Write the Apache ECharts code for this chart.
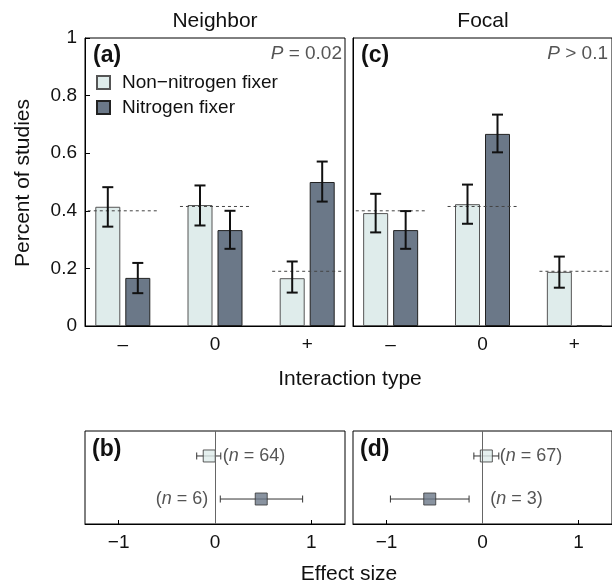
<!DOCTYPE html>
<html>
<head>
<meta charset="utf-8">
<script src="https://cdn.jsdelivr.net/npm/echarts@6/dist/echarts.min.js"></script>
<style>html,body{margin:0;padding:0;background:#fff}#chart{width:612px;height:585px}</style>
</head>
<body>
<div id="chart"></div>
<script>
// categories
const interaction = ['\u2013', '0', '+'];
const groups = ['Non\u2212nitrogen fixer', 'Nitrogen fixer'];

// (a) Neighbor: proportion of studies
const nbNonFix = [0.414, 0.42, 0.166];
const nbNonFixLo = [0.345, 0.349, 0.116];
const nbNonFixHi = [0.482, 0.488, 0.224];
const nbFix = [0.167, 0.333, 0.5];
const nbFixLo = [0.114, 0.268, 0.432];
const nbFixHi = [0.219, 0.4, 0.571];
const nbExpected = [0.4, 0.415, 0.19];

// (c) Focal
const fcNonFix = [0.392, 0.423, 0.188];
const fcNonFixLo = [0.325, 0.355, 0.133];
const fcNonFixHi = [0.459, 0.491, 0.241];
const fcFix = [0.333, 0.667, 0];
const fcFixLo = [0.268, 0.603, 0];
const fcFixHi = [0.399, 0.734, 0];
const fcExpected = [0.4, 0.415, 0.19];

// (b), (d) effect sizes (non-fixer, fixer)
const nbEffect = [-0.06, 0.48];
const nbEffectLo = [-0.19, 0.055];
const nbEffectHi = [0.06, 0.91];
const nbN = [64, 6];
const fcEffect = [0.04, -0.55];
const fcEffectLo = [-0.09, -0.96];
const fcEffectHi = [0.17, -0.14];
const fcN = [67, 3];

const effectTicks = [-1, 0, 1];

const FONT = '"Liberation Sans", Arial, Helvetica, sans-serif';
const LIGHT = '#dfeceb';
const DARK = '#6b7888';
const fills = [LIGHT, DARK];
const borders = ['#555', '#222'];

const chart = echarts.init(document.getElementById('chart'));

function errRender(offset) {
  return function (params, api) {
    const x = api.value(0), lo = api.value(1), hi = api.value(2);
    if (lo === hi) return;
    const t = api.coord([x, hi]);
    const b = api.coord([x, lo]);
    const cx = t[0] + offset;
    const st = { stroke: '#111', lineWidth: 2 };
    return {
      type: 'group',
      children: [
        { type: 'line', shape: { x1: cx, y1: t[1], x2: cx, y2: b[1] }, style: st },
        { type: 'line', shape: { x1: cx - 5.5, y1: t[1], x2: cx + 5.5, y2: t[1] }, style: st },
        { type: 'line', shape: { x1: cx - 5.5, y1: b[1], x2: cx + 5.5, y2: b[1] }, style: st }
      ]
    };
  };
}

function dashRender(params, api) {
  const x = api.value(0), y = api.value(1);
  const a = api.coord([x - 0.38, y]);
  const b = api.coord([x + 0.38, y]);
  return {
    type: 'line',
    shape: { x1: a[0], y1: a[1], x2: b[0], y2: b[1] },
    style: { stroke: '#444', lineWidth: 1, lineDash: [3, 3] }
  };
}

function forestRender(params, api) {
  const est = api.value(0), y = api.value(1), lo = api.value(2), hi = api.value(3), n = api.value(4);
  const l = api.coord([lo, y]);
  const h = api.coord([hi, y]);
  const st = { stroke: '#333', lineWidth: 1 };
  let lx, align;
  if (est > 0.2) { lx = api.coord([-0.07, y])[0]; align = 'right'; }
  else { lx = api.coord([Math.max(hi, 0.07) + 0.01, y])[0]; align = 'left'; }
  return {
    type: 'group',
    children: [
      { type: 'line', shape: { x1: l[0], y1: l[1], x2: h[0], y2: h[1] }, style: st },
      { type: 'line', shape: { x1: l[0], y1: l[1] - 3.5, x2: l[0], y2: l[1] + 3.5 }, style: st },
      { type: 'line', shape: { x1: h[0], y1: h[1] - 3.5, x2: h[0], y2: h[1] + 3.5 }, style: st },
      {
        type: 'text',
        style: {
          x: lx, y: l[1], text: '({i|n} = ' + n + ')',
          align: align, verticalAlign: 'middle',
          font: '18px ' + FONT, fill: '#555',
          rich: { i: { fontStyle: 'italic', fontSize: 18, fontFamily: FONT, fill: '#555' } }
        }
      }
    ]
  };
}

function barPanel(gi, non, nonLo, nonHi, fix, fixLo, fixHi, expected) {
  return [
    {
      name: groups[0], type: 'bar', xAxisIndex: gi, yAxisIndex: gi,
      barWidth: 25, barGap: '20%',
      itemStyle: { color: LIGHT, borderColor: borders[0], borderWidth: 1 },
      data: non.map((v, i) => [i, v])
    },
    {
      name: groups[1], type: 'bar', xAxisIndex: gi, yAxisIndex: gi,
      barWidth: 25, barGap: '20%',
      itemStyle: { color: DARK, borderColor: borders[1], borderWidth: 1 },
      data: fix.map((v, i) => [i, v])
    },
    {
      type: 'custom', xAxisIndex: gi, yAxisIndex: gi, z: 5, clip: true,
      renderItem: dashRender,
      data: expected.map((v, i) => [i, v])
    },
    {
      type: 'custom', xAxisIndex: gi, yAxisIndex: gi, z: 6,
      renderItem: errRender(-15),
      data: non.map((v, i) => [i, nonLo[i], nonHi[i]])
    },
    {
      type: 'custom', xAxisIndex: gi, yAxisIndex: gi, z: 6,
      renderItem: errRender(15),
      data: fix.map((v, i) => [i, fixLo[i], fixHi[i]])
    }
  ];
}

function forestPanel(gi, est, lo, hi, ns) {
  return [
    {
      type: 'custom', xAxisIndex: gi, yAxisIndex: gi, z: 3,
      renderItem: forestRender,
      data: est.map((v, i) => [v, groups.length - i, lo[i], hi[i], ns[i]])
    },
    {
      type: 'scatter', xAxisIndex: gi, yAxisIndex: gi, z: 4,
      symbol: 'rect', symbolSize: 12,
      data: est.map((v, i) => ({
        value: [v, groups.length - i],
        itemStyle: { color: fills[i], borderColor: '#333', borderWidth: 1 }
      })),
      markLine: {
        silent: true, symbol: 'none', label: { show: false },
        lineStyle: { color: '#666', type: 'solid', width: 1 },
        data: [{ xAxis: 0 }]
      }
    }
  ];
}

const labelStyle = { color: '#111', fontSize: 19, fontFamily: FONT };

function barX(gi) {
  return {
    type: 'value', gridIndex: gi, min: -0.41, max: 2.41,
    axisLine: { onZero: false, lineStyle: { color: '#000', width: 1 } },
    axisTick: { show: false },
    splitLine: { show: false },
    axisLabel: Object.assign({ customValues: [0, 1, 2], margin: 9, formatter: v => interaction[v] }, labelStyle)
  };
}
function barY(gi, showLabels) {
  return {
    type: 'value', gridIndex: gi, min: 0, max: 1, interval: 0.2,
    axisLine: { show: true, onZero: false, lineStyle: { color: '#000', width: 1 } },
    axisTick: { show: showLabels, inside: true, length: 5, lineStyle: { color: '#000' } },
    splitLine: { show: false },
    axisLabel: Object.assign({ show: showLabels, margin: 8 }, labelStyle)
  };
}
function forestX(gi) {
  return {
    type: 'value', gridIndex: gi, min: -1.35, max: 1.35,
    axisLine: { onZero: false, lineStyle: { color: '#000', width: 1 } },
    axisTick: { customValues: effectTicks, inside: true, length: 4, lineStyle: { color: '#000' } },
    splitLine: { show: false },
    axisLabel: Object.assign({
      customValues: effectTicks, margin: 9,
      formatter: v => (v < 0 ? '\u2212' + Math.abs(v) : String(v))
    }, labelStyle)
  };
}
function forestY(gi) {
  return {
    type: 'value', gridIndex: gi, min: 0.42, max: 2.58,
    axisLine: { show: false, onZero: false }, axisTick: { show: false },
    axisLabel: { show: false }, splitLine: { show: false }
  };
}

function txt(x, y, text, opts) {
  return {
    type: 'text', x: x, y: y, rotation: (opts && opts.rotation) || 0, z: 100,
    style: Object.assign({
      text: text, font: '21px ' + FONT, fill: '#111',
      align: 'center', verticalAlign: 'middle',
      textAlign: 'center', textVerticalAlign: 'middle'
    }, (opts && opts.style) || {})
  };
}
const boldLbl = { font: 'bold 23px ' + FONT, align: 'left', textAlign: 'left' };
const pStyle = {
  font: '19px ' + FONT, fill: '#555', align: 'right', textAlign: 'right',
  rich: { i: { fontStyle: 'italic', fontSize: 19, fontFamily: FONT, fill: '#555' } }
};

const gridBase = { show: true, borderColor: '#000', borderWidth: 1, containLabel: false };

chart.setOption({
  animation: false,
  backgroundColor: '#fff',
  textStyle: { fontFamily: FONT },
  grid: [
    Object.assign({ left: 85, top: 38, width: 260, height: 288 }, gridBase),
    Object.assign({ left: 353, top: 38, width: 260, height: 288 }, gridBase),
    Object.assign({ left: 85, top: 431, width: 260, height: 93 }, gridBase),
    Object.assign({ left: 353, top: 431, width: 260, height: 93 }, gridBase)
  ],
  xAxis: [barX(0), barX(1), forestX(2), forestX(3)],
  yAxis: [barY(0, true), barY(1, false), forestY(2), forestY(3)],
  legend: {
    data: groups, orient: 'vertical', left: 96, top: 73, padding: 0,
    itemWidth: 13, itemHeight: 13, itemGap: 6, selectedMode: false,
    icon: 'rect',
    textStyle: { color: '#111', fontSize: 19, fontFamily: FONT, lineHeight: 19, padding: [0, 0, 0, 7] }
  },
  graphic: [
    txt(215, 21, 'Neighbor'),
    txt(483, 21, 'Focal'),
    txt(350, 379, 'Interaction type'),
    txt(349, 574, 'Effect size'),
    txt(23, 183, 'Percent of studies', { rotation: Math.PI / 2 }),
    txt(93, 56, '(a)', { style: boldLbl }),
    txt(361, 56, '(c)', { style: boldLbl }),
    txt(92, 450, '(b)', { style: boldLbl }),
    txt(360, 450, '(d)', { style: boldLbl }),
    txt(342, 54, '{i|P} = 0.02', { style: pStyle }),
    txt(608, 54, '{i|P} > 0.1', { style: pStyle })
  ],
  series: [].concat(
    barPanel(0, nbNonFix, nbNonFixLo, nbNonFixHi, nbFix, nbFixLo, nbFixHi, nbExpected),
    barPanel(1, fcNonFix, fcNonFixLo, fcNonFixHi, fcFix, fcFixLo, fcFixHi, fcExpected),
    forestPanel(2, nbEffect, nbEffectLo, nbEffectHi, nbN),
    forestPanel(3, fcEffect, fcEffectLo, fcEffectHi, fcN)
  )
});
</script>
</body>
</html>
